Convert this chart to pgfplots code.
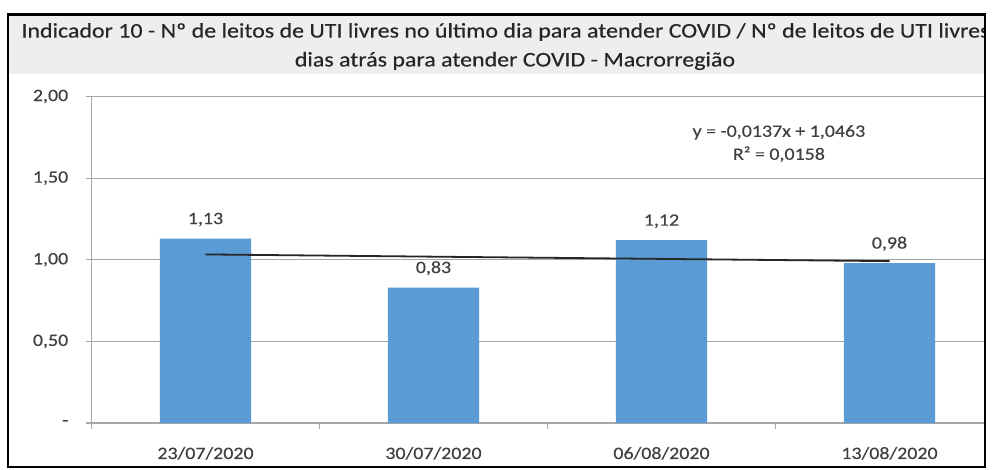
\documentclass[border=0pt]{standalone}
\usepackage{fontspec}
\setmainfont{Carlito}[FakeStretch=1.15,FakeBold=0.35]
\usepackage{pgfplots}
\pgfplotsset{compat=1.18}
\definecolor{barblue}{HTML}{5B9BD5}
\definecolor{txt}{HTML}{404040}
\definecolor{gridc}{HTML}{A6A6A6}
\definecolor{band}{HTML}{EEEEEE}
\begin{document}
\begin{tikzpicture}
\useasboundingbox (-68.625pt,-34.5pt) rectangle (675.375pt,317.25pt);
\fill[white] (-68.625pt,-34.5pt) rectangle (675.375pt,317.25pt);
\begin{scope}
\clip (-62.625pt,-33pt) rectangle (670.125pt,306.375pt);
\fill[band] (-62.625pt,261.75pt) rectangle (670.125pt,306.375pt);
\node[font=\fontsize{15.6}{18}\selectfont, text=black!85] at (310.5pt,293.25pt) {Indicador 10 - Nº de leitos de UTI livres no último dia para atender COVID / Nº de leitos de UTI livres};
\node[font=\fontsize{15.6}{18}\selectfont, text=black!85] at (317.6pt,271.5pt) {dias atrás para atender COVID - Macrorregião};
\begin{axis}[
 at={(0pt,0pt)}, anchor=south west, scale only axis, width=684pt, height=244.875pt,
 xmin=0.5, xmax=4.5, ymin=0, ymax=2,
 axis x line=bottom, axis y line=left,
 axis line style={-, draw=gridc, line width=0.8pt},
 xtick={1,2,3,4}, xticklabels={23/07/2020,30/07/2020,06/08/2020,13/08/2020},
 minor xtick={0.5,1.5,2.5,3.5,4.5},
 ytick={0,0.5,1,1.5,2}, yticklabels={{-\hspace{7.5pt}},{0,50},{1,00},{1,50},{2,00}},
 ymajorgrids, grid style={draw=gridc, line width=0.8pt},
 tick align=outside, major tick length=3.75pt, minor tick length=4.5pt,
 tick style={draw=gridc, line width=0.8pt},
 every major x tick/.append style={draw=none},
 ticklabel style={font=\fontsize{13}{15}\selectfont, text=txt},
 yticklabel style={inner sep=0pt, xshift=-13.5pt},
 xticklabel style={inner sep=0pt, yshift=-14pt},
 /pgf/number format/assume math mode=true,
 clip=false,
]
\addplot[ybar, bar width=0.4, fill=barblue, draw=none,
  nodes near coords={\pgfmathprintnumber[fixed,fixed zerofill,precision=2,use comma]{\pgfplotspointmeta}},
  nodes near coords style={font=\fontsize{13}{15}\selectfont, text=txt, inner sep=0pt, anchor=south, yshift=9pt}]
  coordinates {(1,1.13) (2,0.83) (3,1.12) (4,0.98)};
\addplot[black!85, line width=1.35pt, mark=none] coordinates {(1,1.0326) (4,0.9915)};
\node[font=\fontsize{13}{17.25}\selectfont, text=txt, align=center] at (axis cs:3.515,1.712) {y = -0,0137x + 1,0463\\R² = 0,0158};
\end{axis}
\end{scope}
\draw[black, line width=1.8pt] (-62.625pt,-33pt) rectangle (670.125pt,306.375pt);
\end{tikzpicture}
\end{document}
